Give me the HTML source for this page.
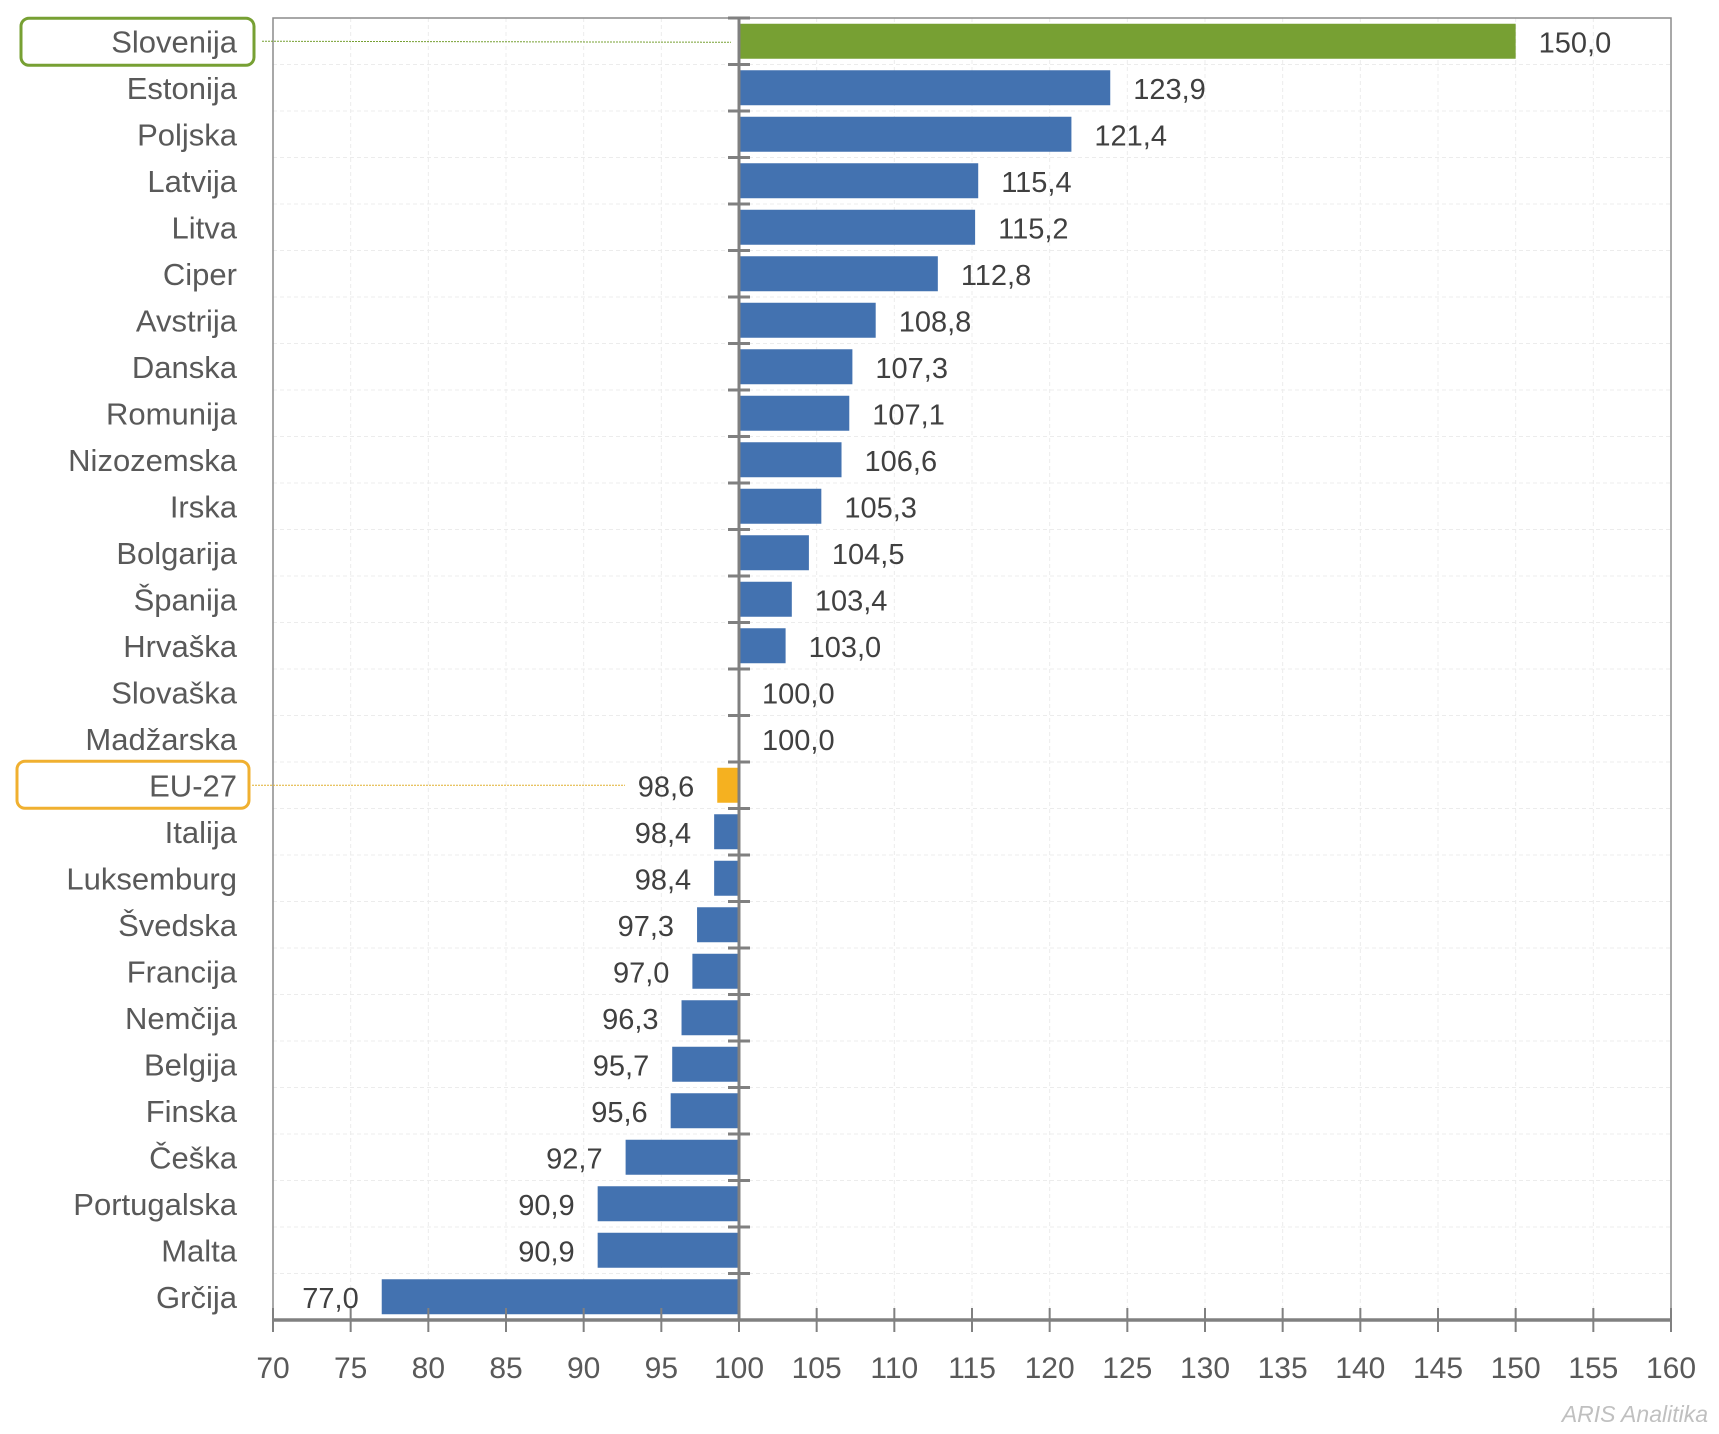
<!DOCTYPE html>
<html><head><meta charset="utf-8"><style>
html,body{margin:0;padding:0;background:#fff;}
svg{display:block;}
</style></head><body>
<svg id="c" width="1719" height="1434" viewBox="0 0 1719 1434" xmlns="http://www.w3.org/2000/svg"></svg>
<script>
const data=[["Slovenija",150.0],["Estonija",123.9],["Poljska",121.4],["Latvija",115.4],["Litva",115.2],["Ciper",112.8],["Avstrija",108.8],["Danska",107.3],["Romunija",107.1],["Nizozemska",106.6],["Irska",105.3],["Bolgarija",104.5],["Španija",103.4],["Hrvaška",103.0],["Slovaška",100.0],["Madžarska",100.0],["EU-27",98.6],["Italija",98.4],["Luksemburg",98.4],["Švedska",97.3],["Francija",97.0],["Nemčija",96.3],["Belgija",95.7],["Finska",95.6],["Češka",92.7],["Portugalska",90.9],["Malta",90.9],["Grčija",77.0]];
const L=273,R=1671,T=18,B=1320;
const X=v=>L+(v-70)*(R-L)/90;
const band=(B-T)/28;
let s='';
for(let v=75;v<160;v+=5){s+=`<line x1="${X(v)}" y1="${T}" x2="${X(v)}" y2="${B}" stroke="#ececec" stroke-width="1" stroke-dasharray="4,3"/>`;}
for(let i=1;i<28;i++){const y=T+band*i;s+=`<line x1="${L}" y1="${y}" x2="${R}" y2="${y}" stroke="#ececec" stroke-width="1" stroke-dasharray="4,3"/>`;}
s+=`<rect x="${L}" y="${T}" width="${R-L}" height="${B-T}" fill="none" stroke="#8c8c8c" stroke-width="1.5"/>`;
const x100=X(100);
data.forEach((d,i)=>{
  const cy=T+band*(i+0.5);const v=d[1];
  const col=d[0]=="Slovenija"?"#77a033":(d[0]=="EU-27"?"#f5b120":"#4372b0");
  const bh=35;
  if(v!=100){const x1=Math.min(X(v),x100),x2=Math.max(X(v),x100);
    s+=`<rect x="${x1}" y="${cy-bh/2}" width="${x2-x1}" height="${bh}" fill="${col}"/>`;}
  const lab=v.toFixed(1).replace('.',',');
  if(v>=100) s+=`<text x="${X(v)+23}" y="${cy+11}" font-size="29" fill="#404040">${lab}</text>`;
  else s+=`<text x="${X(v)-23}" y="${cy+11}" font-size="29" fill="#404040" text-anchor="end">${lab}</text>`;
  s+=`<text x="237" y="${cy+11}" font-size="31" fill="#595959" text-anchor="end">${d[0]}</text>`;
});
s+=`<line x1="${x100}" y1="${T}" x2="${x100}" y2="${B}" stroke="#808080" stroke-width="3"/>`;
for(let i=0;i<28;i++){const y=T+band*i;s+=`<line x1="${x100-11}" y1="${y}" x2="${x100+11}" y2="${y}" stroke="#808080" stroke-width="3"/>`;}
s+=`<line x1="${L}" y1="${B}" x2="${R}" y2="${B}" stroke="#808080" stroke-width="3.5"/>`;
for(let v=70;v<=160;v+=5){const x=X(v);
  s+=`<line x1="${x}" y1="${B-12}" x2="${x}" y2="${B+12}" stroke="#808080" stroke-width="2"/>`;
  s+=`<text x="${x}" y="${B+58}" font-size="30" fill="#595959" text-anchor="middle">${v}</text>`;}
const c0=T+band*0.5,c16=T+band*16.5;
s+=`<rect x="21" y="${c0-23}" width="233" height="47" rx="8" fill="none" stroke="#77a033" stroke-width="3"/>`;
s+=`<line x1="262" y1="${c0}" x2="${x100-8}" y2="${c0+1}" stroke="#77a033" stroke-width="1" stroke-dasharray="2,1"/>`;
s+=`<rect x="17" y="${c16-24}" width="232" height="47" rx="8" fill="none" stroke="#f0b030" stroke-width="3"/>`;
s+=`<line x1="252" y1="${c16}" x2="625" y2="${c16}" stroke="#e0b030" stroke-width="1" stroke-dasharray="2,1"/>`;
s+=`<text x="1708" y="1422" font-size="23" fill="#c0c0c0" font-style="italic" text-anchor="end">ARIS Analitika</text>`;
const svg=document.getElementById('c');
svg.setAttribute('font-family','"Liberation Sans", sans-serif');
svg.innerHTML=s;
</script>
</body></html>
